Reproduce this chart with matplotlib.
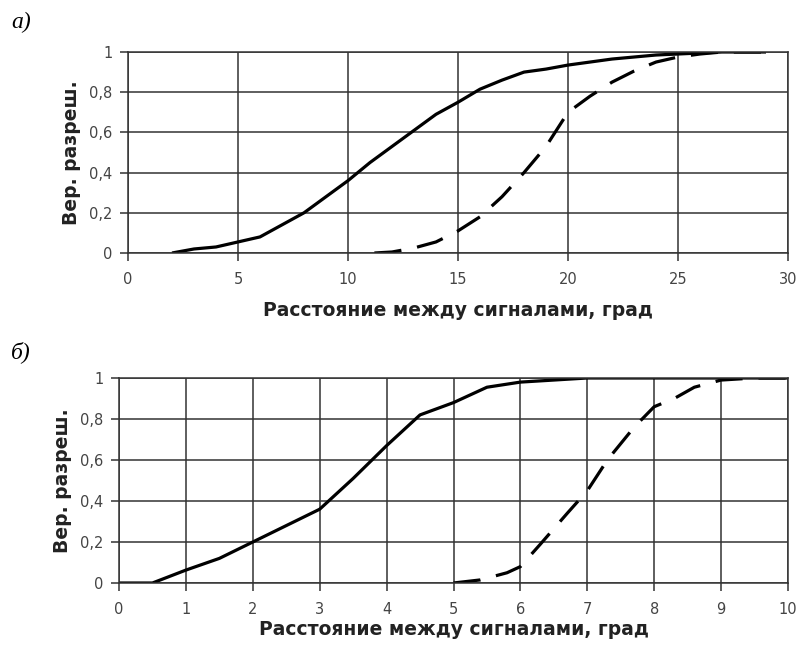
import numpy as np
import matplotlib.pyplot as plt

plt.rcParams['font.family'] = ['DejaVu Sans']

# а) - шкала 0..30 град
xa_sol = [2, 3, 4, 5, 6, 7, 8, 9, 10, 11, 12, 13, 14, 15, 16, 17, 18, 19, 20, 21, 22, 23, 24, 25, 26, 27, 28, 29]
ya_sol = [0, 0.02, 0.03, 0.055, 0.08, 0.14, 0.2, 0.28, 0.36, 0.45, 0.53, 0.61, 0.69, 0.75, 0.815, 0.86, 0.9, 0.915, 0.935, 0.95, 0.965, 0.975, 0.985, 0.99, 0.995, 1, 1, 1]
xa_dash = [11.2, 12, 13, 14, 15, 16, 17, 18, 19, 20, 21, 22, 23, 24, 25, 26, 27, 28, 29]
ya_dash = [0, 0.005, 0.025, 0.055, 0.11, 0.18, 0.28, 0.4, 0.53, 0.7, 0.78, 0.85, 0.905, 0.95, 0.975, 0.99, 1, 1, 1]

# б) - шкала 0..10 град
xb_sol = [0, 0.5, 1, 1.5, 2, 2.5, 3, 3.5, 4, 4.5, 5, 5.5, 6, 6.5, 7, 8, 9, 10]
yb_sol = [0, 0, 0.063, 0.12, 0.2, 0.28, 0.36, 0.51, 0.67, 0.82, 0.88, 0.955, 0.98, 0.99, 1, 1, 1, 1]
xb_dash = [5.0, 5.4, 5.8, 6.0, 6.3, 6.7, 7.0, 7.3, 7.7, 8.0, 8.3, 8.6, 9.0, 9.5, 10]
yb_dash = [0, 0.015, 0.05, 0.08, 0.19, 0.34, 0.45, 0.6, 0.76, 0.86, 0.9, 0.955, 0.99, 1, 1]

yticks = [0, 0.2, 0.4, 0.6, 0.8, 1]
ytick_labels = ['0', '0,2', '0,4', '0,6', '0,8', '1']

W, H = 799, 647
fig = plt.figure(figsize=(W / 100, H / 100), dpi=100)


def panel(l, r, t, b, xmax, xstep, xs, ys, xd, yd, letter, lx, ly):
    ax = fig.add_axes([l / W, 1 - b / H, (r - l) / W, (b - t) / H])
    ax.plot(xs, ys, color='black', lw=2.3, solid_capstyle='butt')
    ax.plot(xd, yd, color='black', lw=2.3, dashes=(8.5, 5))
    ax.set_xlim(0, xmax)
    ax.set_ylim(0, 1)
    ax.set_xticks(np.arange(0, xmax + 0.01, xstep))
    ax.set_yticks(yticks)
    ax.set_yticklabels(ytick_labels)
    ax.grid(True, color='#333333', lw=1.1)
    ax.set_axisbelow(True)
    for s in ax.spines.values():
        s.set_color('#333333')
        s.set_linewidth(1.1)
    ax.tick_params(direction='out', length=6, width=1.1, color='#333333',
                   labelsize=10.5, labelcolor='#444444')
    ax.tick_params(axis='x', pad=8)
    ax.tick_params(axis='y', pad=5)
    ax.set_ylabel('Вер. разреш.', fontsize=13.5, fontweight='bold', color='#222222', labelpad=6)
    ax.set_xlabel('Расстояние между сигналами, град', fontsize=13.5, fontweight='bold',
                  color='#222222', labelpad=10)
    fig.text(lx / W, 1 - ly / H, letter, fontsize=17, style='italic',
             family=['Liberation Serif', 'DejaVu Serif'], va='center')
    return ax


ax1 = panel(128, 788, 52, 253, 30, 5, xa_sol, ya_sol, xa_dash, ya_dash, 'а)', 11, 22)
ax2 = panel(119, 788, 378, 583, 10, 1, xb_sol, yb_sol, xb_dash, yb_dash, 'б)', 11, 352)
ax2.xaxis.labelpad = 2

plt.savefig('out.png', dpi=100)
